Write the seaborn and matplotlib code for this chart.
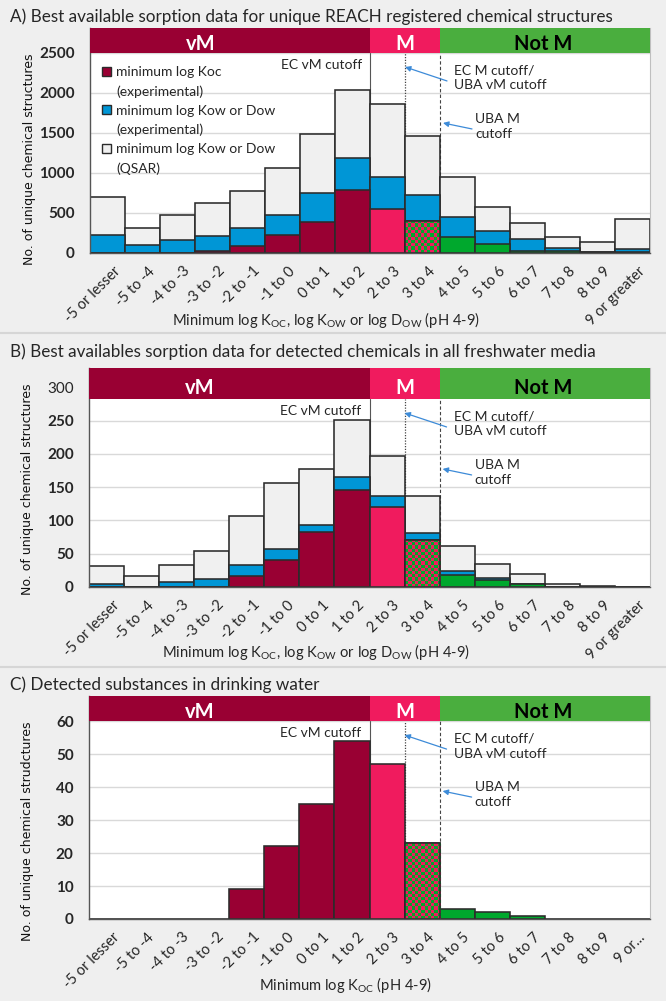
import numpy as np
import pandas as pd
import seaborn as sns
import matplotlib.pyplot as plt
from matplotlib.colors import ListedColormap
from matplotlib.patches import Patch, Rectangle
from matplotlib.lines import Line2D
from matplotlib.transforms import ScaledTranslation

categories = ['-5 or lesser', '-5 to -4', '-4 to -3', '-3 to -2', '-2 to -1', '-1 to 0',
              '0 to 1', '1 to 2', '2 to 3', '3 to 4', '4 to 5', '5 to 6', '6 to 7',
              '7 to 8', '8 to 9', '9 or greater']
categories_c = categories[:-1] + ['9 or...']

# A) unique REACH registered structures (counts per segment)
reach_koc = [0, 0, 0, 25, 83, 220, 387, 787, 550, 404, 200, 108, 29, 20, 12, 15]
reach_kow_exp = [220, 100, 160, 187, 225, 255, 359, 396, 400, 326, 250, 171, 150, 42, 5, 40]
reach_qsar = [480, 215, 315, 408, 472, 583, 741, 854, 908, 732, 496, 300, 192, 134, 116, 365]

# B) detected in freshwater media
fresh_koc = [0, 0, 0, 0, 17, 41, 83, 145, 120, 71, 18, 10, 4, 0, 0, 0]
fresh_kow_exp = [4, 0, 8, 12, 16, 16, 10, 21, 17, 10, 6, 3, 1, 0, 0, 0]
fresh_qsar = [27, 17, 25, 42, 74, 99, 84, 85, 60, 55, 37, 22, 15, 5, 1, 0]

# C) detected in drinking water
drink_koc = [0, 0, 0, 0, 9, 22, 35, 54, 47, 23, 3, 2, 1, 0, 0, 0]

# mobility classes (name, first bin, last bin)
classes = [('vM', 0, 7), ('M', 8, 9), ('Not M', 10, 15)]
checker_bin = '3 to 4'

MAROON = '#990033'
PINK = '#f01b5e'
GREEN = '#00a82d'
HDR_GREEN = '#4aae3e'
BLUE = '#0096d6'
GREY = '#f0f0f0'
EDGE = '#2b2b2b'
TXT = '#262626'
ARROW = '#3d8bd8'

sns.set_style('white')
plt.rcParams['font.family'] = ['Lato', 'DejaVu Sans']
plt.rcParams['mathtext.fontset'] = 'custom'
plt.rcParams['mathtext.rm'] = 'Lato'
plt.rcParams['text.color'] = TXT

W, H = 666, 1001
fig = plt.figure(figsize=(W / 100, H / 100), dpi=100, facecolor='#efefef')


def px_ax(left, right, top, bottom):
    return fig.add_axes([left / W, 1 - bottom / H, (right - left) / W, (bottom - top) / H])


def koc_color(i):
    if i <= 7:
        return MAROON
    if i == 8:
        return PINK
    return GREEN


def offset(ax, x, y, dx, dy):
    # data point shifted by dx, dy pixels (dy positive = downwards)
    p = ax.transData.transform((x, y)) + np.array([dx, -dy])
    return ax.transData.inverted().transform(p)


def draw_panel(ax, labels, koc, kow, qsar, ytop, hdr_lo, step):
    ax.set_xlim(-0.5, 15.5)
    ax.set_ylim(0, ytop)
    df = pd.DataFrame({'cat': labels, 'koc': koc})
    bar_kw = dict(width=1, edgecolor=EDGE, linewidth=1.15, saturation=1, ax=ax, zorder=2)
    if kow is not None:
        df['kow'] = df['koc'] + np.array(kow)
        df['total'] = df['kow'] + np.array(qsar)
        sns.barplot(df, x='cat', y='total', color=GREY, **bar_kw)
        sns.barplot(df, x='cat', y='kow', color=BLUE, **bar_kw)
    n0 = len(ax.patches)
    pal = {c: koc_color(i) for i, c in enumerate(labels)}
    sns.barplot(df, x='cat', y='koc', hue='cat', palette=pal, legend=False, **bar_kw)
    ax.set_xlim(-0.5, 15.5)
    ax.set_ylim(0, ytop)

    # checkered bar for the overlapping class
    xc = categories.index(checker_bin)
    chk = [p for p in ax.patches[n0:] if abs(p.get_x() + p.get_width() / 2 - xc) < 0.1][0]
    x0, y0 = chk.get_xy()
    w, h = chk.get_width(), chk.get_height()
    a = ax.transData.transform((x0, y0))
    b = ax.transData.transform((x0 + w, y0 + h))
    nc = max(1, int(round(abs(b[0] - a[0]) / 3.2)))
    nr = max(1, int(round(abs(b[1] - a[1]) / 3.2)))
    board = np.indices((nr, nc)).sum(axis=0) % 2
    im = ax.imshow(board, cmap=ListedColormap([PINK, GREEN]), extent=(x0, x0 + w, y0, y0 + h),
                   aspect='auto', interpolation='nearest', origin='lower', zorder=2.1)
    im.set_clip_path(chk)
    ax.add_patch(Rectangle((x0, y0), w, h, fill=False, edgecolor=EDGE, lw=1.15, zorder=2.2))
    ax.set_xlim(-0.5, 15.5)
    ax.set_ylim(0, ytop)

    # cutoff lines
    ax.plot([7.5, 7.5], [0, hdr_lo], color='#555555', lw=0.8, zorder=1.5)
    ax.plot([8.5, 8.5], [0, hdr_lo], color='#444444', lw=0.9, ls=(0, (1, 1.2)), zorder=1.5)
    ax.plot([9.5, 9.5], [0, hdr_lo], color='#444444', lw=0.8, ls=(0, (3, 2)), zorder=1.5)

    # mobility class header
    hdr_cols = [MAROON, PINK, HDR_GREEN]
    hdr_txt = ['white', 'white', 'black']
    hdr_x = [2.65, 8.5, 12.45]
    for (name, i0, i1), col, tc, hx in zip(classes, hdr_cols, hdr_txt, hdr_x):
        ax.axvspan(i0 - 0.5, i1 + 0.5, ymin=hdr_lo / ytop, ymax=1, color=col, lw=0, zorder=5)
        ax.text(hx, hdr_lo + 0.36 * (ytop - hdr_lo), name, ha='center', va='center',
                color=tc, fontsize=14.5, fontweight='bold', zorder=6)

    # cutoff annotations
    ax.annotate('EC vM cutoff', xy=offset(ax, 7.5, hdr_lo, -8, 12), ha='right', va='center',
                fontsize=10, zorder=6)
    ax.annotate('', xy=offset(ax, 8.5, hdr_lo, 0, 14), xytext=offset(ax, 8.5, hdr_lo, 42, 28),
                arrowprops=dict(arrowstyle='-|>', color=ARROW, lw=0.9, mutation_scale=8,
                                shrinkA=0, shrinkB=0), zorder=6)
    ax.text(*offset(ax, 8.5, hdr_lo, 49, 25), 'EC M cutoff/\nUBA vM cutoff', ha='left',
            va='center', fontsize=10, linespacing=1.3, zorder=6)
    ax.annotate('', xy=offset(ax, 9.5, hdr_lo, 3, 70), xytext=offset(ax, 9.5, hdr_lo, 32, 76),
                arrowprops=dict(arrowstyle='-|>', color=ARROW, lw=0.9, mutation_scale=8,
                                shrinkA=0, shrinkB=0), zorder=6)
    ax.text(*offset(ax, 9.5, hdr_lo, 35, 73.5), 'UBA M\ncutoff', ha='left', va='center',
            fontsize=10, linespacing=1.3, zorder=6)

    # axes styling
    ax.set_facecolor('white')
    ax.set_yticks(np.arange(0, hdr_lo + 1, step))
    ax.yaxis.grid(True, color='#d9d9d9', lw=1)
    ax.set_axisbelow(True)
    ax.tick_params(axis='y', length=0, pad=11, labelsize=11, labelcolor=TXT)
    for t in ax.get_yticklabels():
        t.set_fontweight('bold')
    ax.tick_params(axis='x', length=0, pad=2, labelsize=10.5, labelcolor=TXT)
    shift = ScaledTranslation(4 / 72, -6 / 72, fig.dpi_scale_trans)
    for t in ax.get_xticklabels():
        t.set_rotation(45)
        t.set_ha('right')
        t.set_va('top')
        t.set_rotation_mode('anchor')
        t.set_transform(t.get_transform() + shift)
    for s in ['left', 'bottom']:
        ax.spines[s].set_color('#555555')
        ax.spines[s].set_linewidth(1)
    ax.spines['right'].set_color('#bfbfbf')
    ax.spines['top'].set_visible(False)


def place_labels(ax, xlabel, ylabel, xl, yl):
    ax.set_xlabel(xlabel, fontsize=10.6, va='center', color=TXT)
    ax.xaxis.set_label_coords(xl[0] / W, 1 - xl[1] / H, transform=fig.transFigure)
    ax.set_ylabel(ylabel, fontsize=9, family='DejaVu Sans', va='center', color='#111111')
    ax.yaxis.set_label_coords(yl[0] / W, 1 - yl[1] / H, transform=fig.transFigure)


xlab_ab = r'Minimum log K$_{\rm OC}$, log K$_{\rm OW}$ or log D$_{\rm OW}$ (pH 4-9)'

# panel A
axA = px_ax(90, 650, 28, 253)
draw_panel(axA, categories, reach_koc, reach_kow_exp, reach_qsar, 2812, 2500, 500)
place_labels(axA, xlab_ab, 'No. of unique chemical structures', (326, 320), (30, 159))
handles = [Patch(facecolor=MAROON, edgecolor=EDGE), Patch(facecolor='none', edgecolor='none'),
           Patch(facecolor=BLUE, edgecolor=EDGE), Patch(facecolor='none', edgecolor='none'),
           Patch(facecolor=GREY, edgecolor=EDGE), Patch(facecolor='none', edgecolor='none')]
leg_labels = ['minimum log Koc', '(experimental)', 'minimum log Kow or Dow', '(experimental)',
              'minimum log Kow or Dow', '(QSAR)']
axA.legend(handles, leg_labels, loc='upper left', bbox_to_anchor=(0.022, 0.83), frameon=False,
           borderaxespad=0, borderpad=0, handlelength=0.65, handleheight=0.65,
           handletextpad=0.35, labelspacing=0.5, fontsize=10)

# panel B
axB = px_ax(89, 650, 368, 587)
draw_panel(axB, categories, fresh_koc, fresh_kow_exp, fresh_qsar, 329, 282.5, 50)
axB.set_yticks(np.arange(0, 301, 50))
place_labels(axB, xlab_ab, 'No. of unique chemical structures', (316, 652), (28, 489))

# panel C
axC = px_ax(89, 650, 696, 919)
draw_panel(axC, categories_c, drink_koc, None, None, 67.6, 60, 10)
place_labels(axC, r'Minimum log K$_{\rm OC}$ (pH 4-9)', 'No. of unique chemical strudctures',
             (345, 985), (28, 831))

titles = [('A) Best available sorption data for unique REACH registered chemical structures', 17),
          ('B) Best availables sorption data for detected chemicals in all freshwater media', 352),
          ('C) Detected substances in drinking water', 685)]
for txt, y in titles:
    fig.text(10 / W, 1 - y / H, txt, ha='left', va='center', fontsize=12.3, color=TXT)

for y in [333, 667]:
    fig.add_artist(Line2D([0, 1], [1 - y / H] * 2, transform=fig.transFigure, color='#d6d6d6', lw=1.5))

fig.savefig('out.png', dpi=100, facecolor=fig.get_facecolor())
